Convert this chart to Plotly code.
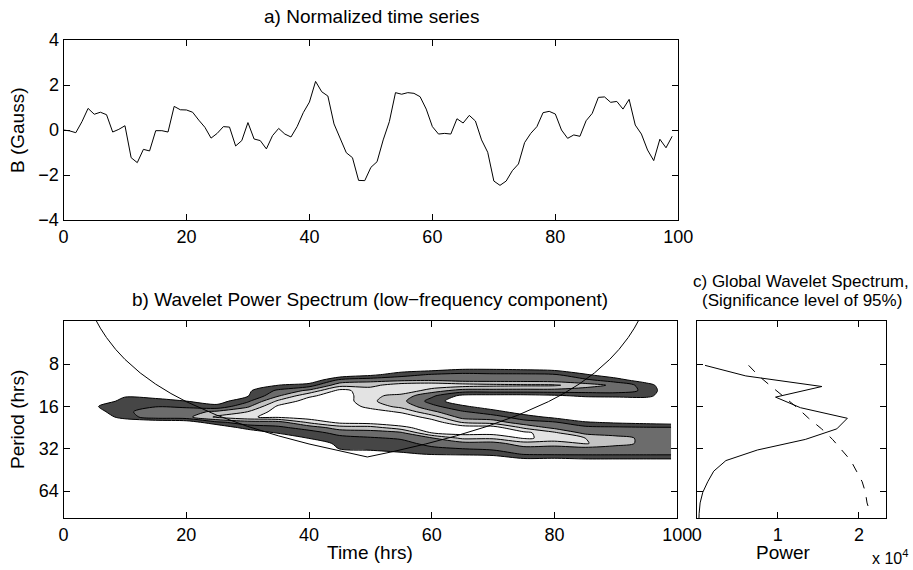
import plotly.graph_objects as go

# ---------------- data ----------------
hours = list(range(100))
b_gauss = [0.0, -0.04, -0.12, 0.37, 0.96, 0.70, 0.79, 0.68, -0.09, 0.03,
           0.19, -1.23, -1.45, -0.86, -0.93, -0.03, -0.03, -0.09, 1.05, 0.90,
           0.89, 0.79, 0.44, 0.12, -0.36, -0.15, 0.15, 0.13, -0.71, -0.47,
           0.33, -0.40, -0.47, -0.84, -0.25, 0.07, -0.18, -0.31, 0.15, 0.77,
           1.24, 2.16, 1.70, 1.51, 0.27, -0.40, -1.01, -1.23, -2.24, -2.25,
           -1.66, -1.41, -0.44, 0.37, 1.66, 1.59, 1.66, 1.63, 1.48, 0.93,
           0.15, -0.18, -0.15, -0.18, 0.50, 0.31, 0.65, 0.40, -0.44, -0.99,
           -2.27, -2.46, -2.27, -1.81, -1.51, -0.56, -0.15, 0.15, 0.77, 0.83,
           0.71, 0.0, -0.37, -0.22, -0.28, 0.41, 0.74, 1.45, 1.47, 1.23,
           1.27, 0.93, 1.36, 0.22, -0.18, -0.89, -1.36, -0.41, -0.79, -0.28]

# wavelet power grid (arbitrary units)
grid_hours = [0, 5, 10, 15, 20, 25, 30, 35, 40, 45, 50, 55, 60, 65, 70, 75, 80, 85, 90, 95, 99]
grid_periods = [4.0, 8.0, 8.72, 9.51, 10.37, 11.31, 12.34, 13.45, 14.67, 16.0, 17.45, 19.03,
                20.75, 22.63, 24.68, 26.91, 29.34, 32.0, 34.9, 38.05, 41.5, 45.25, 64.0, 104.0]
power_columns = [
    [0] * 24,
    [0, 0, 0, 0, 0, 0, 0, 0, 0.3, 0.9, 0.5, 0, 0, 0, 0, 0, 0, 0, 0, 0, 0, 0, 0, 0],
    [0, 0, 0, 0, 0, 0, 0, 0.9, 1.3, 1.6, 1.8, 1.5, 0, 0, 0, 0, 0, 0, 0, 0, 0, 0, 0, 0],
    [0, 0, 0, 0, 0, 0, 0.2, 0.7, 1.3, 1.95, 2.5, 2.6, 0, 0, 0, 0, 0, 0, 0, 0, 0, 0, 0, 0],
    [0, 0, 0, 0, 0, 0, 0, 0.3, 1.0, 1.8, 2.6, 2.7, 0.3, 0, 0, 0, 0, 0, 0, 0, 0, 0, 0, 0],
    [0, 0, 0, 0, 0, 0, 0, 0.2, 0.5, 1.3, 3.2, 4.2, 1.8, 0, 0, 0, 0, 0, 0, 0, 0, 0, 0, 0],
    [0, 0, 0, 0, 0, 0, 0.8, 0.9, 1.8, 2.8, 4.0, 4.9, 2.5, 1.5, 0, 0, 0, 0, 0, 0, 0, 0, 0, 0],
    [0, 0, 0, 0, 0, 1.0, 2.2, 2.9, 4.2, 5.2, 5.5, 5.2, 2.6, 1.8, 1.1, 0, 0, 0, 0, 0, 0, 0, 0, 0],
    [0, 0, 0, 0, 0, 1.5, 3.2, 4.8, 5.5, 5.8, 5.8, 5.6, 4.2, 2.4, 1.6, 1.05, 0, 0, 0, 0, 0, 0, 0, 0],
    [0, 0, 0, 0, 2.2, 3.6, 5.3, 5.6, 5.7, 5.9, 6.0, 5.8, 5.3, 3.5, 2.3, 1.7, 1.35, 1.05, 0, 0, 0, 0, 0, 0],
    [0, 0, 0, 0.7, 2.6, 3.7, 4.5, 4.3, 4.2, 4.6, 5.6, 6.0, 5.5, 3.6, 2.5, 1.9, 1.5, 1.25, 0.4, 0, 0, 0, 0, 0],
    [0, 0, 0.3, 1.6, 2.7, 4.6, 4.9, 3.6, 3.3, 3.7, 4.8, 5.8, 6.0, 4.6, 2.8, 2.1, 1.7, 1.4, 0.8, 0, 0, 0, 0, 0],
    [0, 0, 0.6, 2.1, 2.8, 4.8, 3.5, 2.2, 1.6, 2.3, 3.2, 4.5, 5.6, 5.8, 5.0, 2.9, 2.3, 1.8, 1.1, 0, 0, 0, 0, 0],
    [0, 0, 1.0, 2.3, 2.5, 4.5, 2.6, 0.7, 0.2, 1.2, 2.1, 2.6, 3.9, 5.6, 5.4, 4.2, 2.6, 2.0, 1.2, 0, 0, 0, 0, 0],
    [0, 0, 1.0, 2.2, 2.5, 4.3, 2.6, 0.6, 0, 0.3, 1.4, 2.4, 3.5, 5.5, 5.4, 4.2, 2.6, 2.2, 1.4, 0, 0, 0, 0, 0],
    [0, 0, 0.9, 2.2, 2.5, 4.2, 2.6, 0.6, 0, 0, 0.4, 1.5, 2.4, 3.8, 5.3, 5.1, 3.6, 2.6, 2.1, 0.8, 0, 0, 0, 0],
    [0, 0, 0.7, 2.1, 2.4, 4.15, 2.6, 0.8, 0, 0, 0, 0.7, 2.1, 2.7, 4.2, 4.8, 3.4, 2.6, 2.2, 0.7, 0, 0, 0, 0],
    [0, 0, 0.2, 1.1, 2.2, 3.4, 2.5, 1.2, 0, 0, 0, 0, 1.1, 2.3, 2.7, 4.0, 4.1, 2.6, 2.2, 0.9, 0, 0, 0, 0],
    [0, 0, 0, 0.3, 1.4, 2.8, 2.5, 1.3, 0, 0, 0, 0, 0.8, 2.2, 2.6, 3.3, 3.3, 2.6, 2.2, 0.9, 0, 0, 0, 0],
    [0, 0, 0, 0, 0.3, 1.5, 1.8, 1.4, 0, 0, 0, 0, 0.6, 2.1, 2.5, 2.8, 2.8, 2.5, 2.2, 0.9, 0, 0, 0, 0],
    [0, 0, 0, 0, 0, 0, 0, 0, 0, 0, 0, 0, 0.4, 2.1, 2.4, 2.6, 2.6, 2.4, 2.2, 0.9, 0, 0, 0, 0],
]
power_grid = [[col[i] for col in power_columns] for i in range(len(grid_periods))]

# cone of influence (period, hrs)
coi_hours = [5, 6, 7, 8.5, 10, 12.5, 15, 17.5, 20, 25, 30, 35, 40, 45, 49.5,
             54, 59, 64, 69, 74, 79, 81.5, 84, 86.5, 89, 90.5, 92, 93, 94]
coi_period = [3.70, 4.44, 5.18, 6.29, 7.40, 9.25, 11.10, 12.95, 14.80, 18.50, 22.20, 25.90,
              29.60, 33.30, 36.63, 33.30, 29.60, 25.90, 22.20, 18.50, 14.80, 12.95, 11.10,
              9.25, 7.40, 6.29, 5.18, 4.44, 3.70]

# global wavelet spectrum
gws_period = [8.17, 9.71, 11.55, 13.74, 16.34, 19.43, 23.11, 27.48, 32.68, 38.86,
              46.21, 54.96, 65.36, 77.72, 92.43, 109.9]
gws_power = [1030, 6050, 15430, 9720, 12790, 18570, 17270, 13390, 7480, 3600,
             2100, 1360, 750, 420, 300, 260]
sig_period = [8.17, 9.71, 11.55, 13.74, 16.34, 19.43, 23.11, 27.48, 32.68, 38.86,
              46.21, 54.96, 65.36, 77.72, 88.0]
sig_power = [6400, 7650, 9200, 10800, 12400, 13800, 15400, 16750, 17900, 19000,
             19700, 20400, 20800, 21000, 21300]

W, H = 913, 570
FONT = "Liberation Sans, Arial, Helvetica, sans-serif"
FS = 18
FT = 19

fig = go.Figure()

fig.add_trace(go.Scatter(x=hours, y=b_gauss, mode="lines",
                         line=dict(color="black", width=1), xaxis="x", yaxis="y",
                         showlegend=False))

grey_scale = [[0.0, "#ffffff"], [0.2, "#464646"], [0.4, "#6c6c6c"],
              [0.6, "#c3c3c3"], [0.8, "#e3e3e3"], [1.0, "#ffffff"]]
fig.add_trace(go.Contour(x=grid_hours, y=grid_periods, z=power_grid,
                         xaxis="x2", yaxis="y2", showscale=False,
                         colorscale=grey_scale,
                         contours=dict(start=1, end=5, size=1, coloring="fill"),
                         line=dict(color="black", width=1, smoothing=0.8),
                         hoverinfo="skip"))

fig.add_trace(go.Scatter(x=coi_hours, y=coi_period, mode="lines",
                         line=dict(color="black", width=1), xaxis="x2", yaxis="y2",
                         showlegend=False))

fig.add_trace(go.Scatter(x=gws_power, y=gws_period, mode="lines",
                         line=dict(color="black", width=1), xaxis="x3", yaxis="y3",
                         showlegend=False))
fig.add_trace(go.Scatter(x=sig_power, y=sig_period, mode="lines",
                         line=dict(color="black", width=1, dash="dash"),
                         xaxis="x3", yaxis="y3", showlegend=False))

def xd(a, b):
    return [a / W, b / W]

def yd(top, bottom):
    return [1 - bottom / H, 1 - top / H]

axis_common = dict(showline=True, linecolor="black", linewidth=1, mirror="ticks",
                   ticks="inside", ticklen=6, tickcolor="black", showgrid=False,
                   zeroline=False, automargin=False,
                   tickfont=dict(family=FONT, size=FS, color="black"))

log_top, log_bottom = 0.5966, 2.0

fig.update_layout(
    template="none",
    width=W, height=H, margin=dict(l=0, r=0, t=0, b=0, pad=0),
    paper_bgcolor="white", plot_bgcolor="white", showlegend=False,
    font=dict(family=FONT, size=FS, color="black"),
    xaxis=dict(domain=xd(63.5, 678.3), range=[0, 100], tickvals=[0, 20, 40, 60, 80, 100],
               anchor="y", **axis_common),
    yaxis=dict(domain=yd(40, 220), range=[-4, 4], tickvals=[-4, -2, 0, 2, 4],
               anchor="x", **axis_common),
    xaxis2=dict(domain=xd(63.5, 677.3), range=[0, 100], tickvals=[0, 20, 40, 60, 80, 100],
                anchor="y2", **axis_common),
    yaxis2=dict(domain=yd(321, 518.3), type="log", range=[log_bottom, log_top],
                tickvals=[8, 16, 32, 64], ticktext=["8", "16", "32", "64"],
                anchor="x2", **axis_common),
    xaxis3=dict(domain=xd(696.7, 885.7), range=[0, 23300], tickvals=[0, 10000, 20000],
                ticktext=["0", "1", "2"], anchor="y3", **axis_common),
    yaxis3=dict(domain=yd(321, 518.3), type="log", range=[log_bottom, log_top],
                tickvals=[8, 16, 32, 64], showticklabels=False, anchor="x3", **axis_common),
)

def note(text, x, y, size=FT, **kw):
    d = dict(text=text, x=x / W, y=1 - y / H, xref="paper", yref="paper",
             showarrow=False, font=dict(family=FONT, size=size, color="black"),
             xanchor="center", yanchor="middle")
    d.update(kw)
    fig.add_annotation(**d)

note("a) Normalized time series", 371, 17)
note("B (Gauss)", 17, 130, textangle=-90)
note("b) Wavelet Power Spectrum (low\u2212frequency component)", 370, 299)
note("Period (hrs)", 17, 420, textangle=-90)
note("Time (hrs)", 370, 552)
note("c) Global Wavelet Spectrum,", 801, 281, size=17)
note("(Significance level of 95%)", 802, 300, size=17)
note("Power", 783, 552)
note("x 10<sup>4</sup>", 870, 569, size=16, xanchor="left", yanchor="bottom")

fig.write_html("out.html",
               config={"displayModeBar": False},
               post_script="document.body.style.margin='0px';"
                           "document.body.style.overflow='hidden';")
